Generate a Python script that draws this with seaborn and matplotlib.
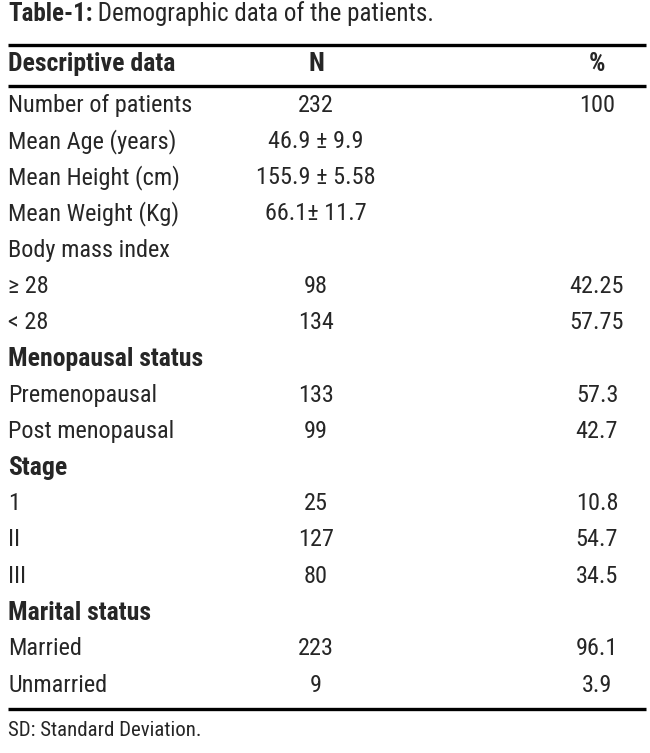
import matplotlib
matplotlib.use("Agg")
import matplotlib.pyplot as plt
from matplotlib import font_manager
import seaborn as sns

# table content
labels = ["Number of patients", "Mean Age (years)", "Mean Height (cm)", "Mean Weight (Kg)",
          "Body mass index", "\u2265 28", "< 28", "Menopausal status", "Premenopausal",
          "Post menopausal", "Stage", "1", "II", "III", "Marital status", "Married", "Unmarried"]
n_vals = ["232", "46.9 \u00b1 9.9", "155.9 \u00b1 5.58", "66.1\u00b1 11.7", "", "98", "134", "",
          "133", "99", "", "25", "127", "80", "", "223", "9"]
pct_vals = ["100", "", "", "", "", "42.25", "57.75", "", "57.3", "42.7", "", "10.8", "54.7",
            "34.5", "", "96.1", "3.9"]
bold_rows = ["Menopausal status", "Stage", "Marital status"]
headers = ["Descriptive data", "N", "%"]
title_bold = "Table-1:"
title_rest = " Demographic data of the patients."
footnote = "SD: Standard Deviation."

sns.set_theme(style="white")
names = {f.name for f in font_manager.fontManager.ttflist}
fam = [f for f in ["Liberation Sans Narrow", "Roboto Condensed", "Open Sans Condensed"] if f in names]
plt.rcParams["font.family"] = fam + ["Liberation Sans", "DejaVu Sans"]

fig = plt.figure(figsize=(6.5, 7.53), dpi=100)
ax = fig.add_axes([0, 0, 1, 1])
ax.set_xlim(0, 650)
ax.set_ylim(753, 0)
ax.axis("off")

fs = 17.5
fs_b = 18.5
x_lab, x_n, x_pct = 8, 316, 597

# title
t = ax.text(x_lab, 14, title_bold, fontsize=18, fontweight="bold", va="center", ha="left")
fig.canvas.draw()
bb = t.get_window_extent().transformed(ax.transData.inverted())
ax.text(bb.x1, 14, title_rest, fontsize=18, va="center", ha="left")

# rules
for y, lw in [(45, 2.4), (86, 2.4), (709, 2.4)]:
    ax.plot([8, 646], [y, y], color="black", lw=lw, solid_capstyle="butt")

# header
ax.text(x_lab, 64, headers[0], fontsize=fs_b, fontweight="bold", va="center", ha="left")
ax.text(x_n, 64, headers[1], fontsize=fs_b, fontweight="bold", va="center", ha="center")
ax.text(x_pct, 64, headers[2], fontsize=fs_b, fontweight="bold", va="center", ha="center")

y0, dy = 105, 36.25
for i, (lab, nv, pv) in enumerate(zip(labels, n_vals, pct_vals)):
    y = y0 + i * dy
    if lab in bold_rows:
        ax.text(x_lab, y, lab, fontsize=fs_b, fontweight="bold", va="center", ha="left")
    else:
        ax.text(x_lab, y, lab, fontsize=fs, va="center", ha="left")
    ax.text(x_n, y, nv, fontsize=fs, va="center", ha="center")
    ax.text(x_pct, y, pv, fontsize=fs, va="center", ha="center")

ax.text(x_lab, 731, footnote, fontsize=15, va="center", ha="left")

fig.savefig("out.png", dpi=100)
